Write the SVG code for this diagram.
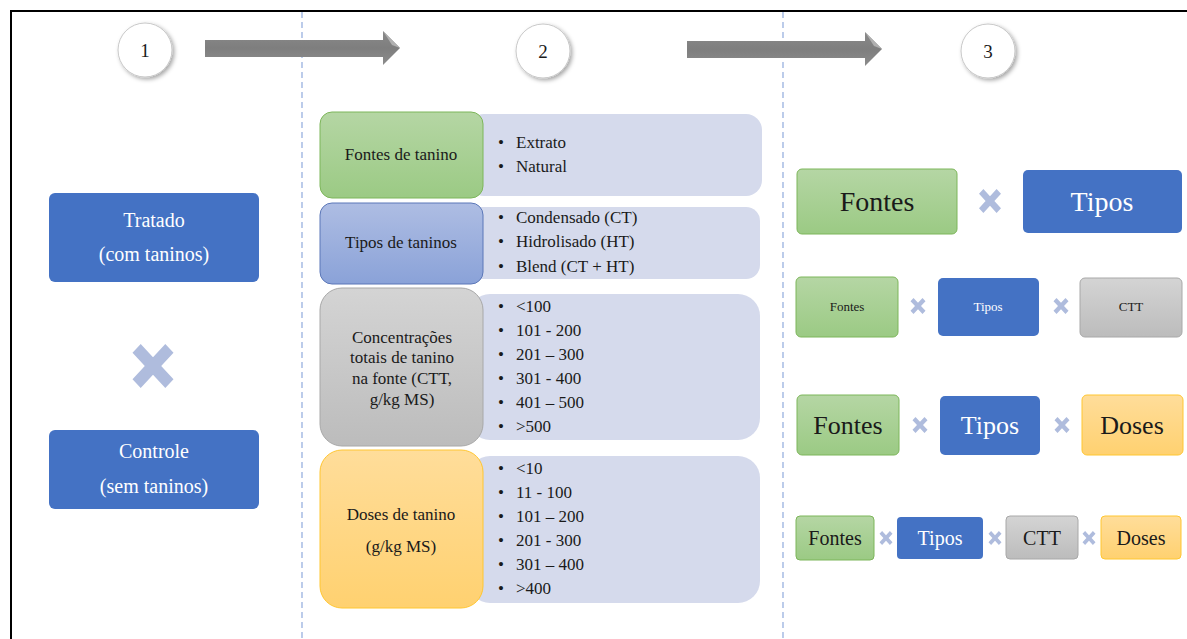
<svg xmlns="http://www.w3.org/2000/svg" width="1187" height="639" viewBox="0 0 1187 639">
<defs>
<linearGradient id="gG" x1="0" y1="0" x2="0" y2="1"><stop offset="0" stop-color="#B5D6A4"/><stop offset="1" stop-color="#9BCA84"/></linearGradient>
<linearGradient id="gB" x1="0" y1="0" x2="0" y2="1"><stop offset="0" stop-color="#AEBDE3"/><stop offset="1" stop-color="#8AA2D8"/></linearGradient>
<linearGradient id="gY" x1="0" y1="0" x2="0" y2="1"><stop offset="0" stop-color="#FFDD9A"/><stop offset="1" stop-color="#FFD170"/></linearGradient>
<linearGradient id="gK" x1="0" y1="0" x2="0" y2="1"><stop offset="0" stop-color="#D4D4D4"/><stop offset="1" stop-color="#BCBCBC"/></linearGradient>
<linearGradient id="gA" x1="0" y1="0" x2="0" y2="1"><stop offset="0" stop-color="#8A8A8A"/><stop offset="0.5" stop-color="#7E7E7E"/><stop offset="1" stop-color="#8C8C8C"/></linearGradient>
<filter id="sh" x="-30%" y="-30%" width="170%" height="170%"><feDropShadow dx="2" dy="2" stdDeviation="2" flood-color="#000" flood-opacity="0.35"/></filter>
<path id="xm" d="M-0.3,-0.5 L0,-0.2 L0.3,-0.5 L0.5,-0.3 L0.2,0 L0.5,0.3 L0.3,0.5 L0,0.2 L-0.3,0.5 L-0.5,0.3 L-0.2,0 L-0.5,-0.3 Z"/>
</defs>
<style>
text{font-family:'Liberation Serif','Times New Roman',Times,Tinos,'Noto Serif','DejaVu Serif',FreeSerif,serif;fill:#1a1a1a}
.w{fill:#fff}
.c{text-anchor:middle}
.t17{font-size:17px}
.blue{fill:#4472C4}
.grn{fill:url(#gG);stroke:#7DB65A;stroke-width:1}
.ylw{fill:url(#gY);stroke:#FFC631;stroke-width:1}
.gry{fill:url(#gK);stroke:#A8A8A8;stroke-width:1}
.lbl{fill:url(#gB);stroke:#5B77B8;stroke-width:1}
.lav{fill:#D5DAEC}
.x{fill:#AFBCDD}
.dash{stroke:#8FAADC;stroke-width:1.2;stroke-dasharray:6,4;fill:none}
.circ{fill:#fff;stroke:#C8C8C8;stroke-width:1;filter:url(#sh)}
</style>
<rect width="1187" height="639" fill="#fff"/>
<g id="frame">
<path d="M11,639 L11,11 L1187,11" fill="none" stroke="#000" stroke-width="2"/>
<line class="dash" x1="302" y1="12" x2="302" y2="639"/>
<line class="dash" x1="783" y1="12" x2="783" y2="639"/>
</g>
<g id="connectors">
<path d="M205,40 L383,40 L383,31 L400,48 L383,65 L383,57 L205,57 Z" fill="url(#gA)"/>
<path d="M383,31 L400,48 L392,45 Z" fill="#B0B0B0"/>
<path d="M687,41 L865,41 L865,32 L882,49 L865,66 L865,58 L687,58 Z" fill="url(#gA)"/>
<path d="M865,32 L882,49 L874,46 Z" fill="#B0B0B0"/>
</g>
<g id="step1"><circle class="circ" cx="145" cy="50" r="27"/><text class="c" x="145" y="57" font-size="19">1</text></g>
<g id="step2"><circle class="circ" cx="543" cy="51" r="27"/><text class="c" x="543" y="58" font-size="19">2</text></g>
<g id="step3"><circle class="circ" cx="988" cy="51" r="27"/><text class="c" x="988" y="58" font-size="19">3</text></g>
<g id="tratado"><rect class="blue" x="49" y="193" width="210" height="89" rx="6"/><text class="c w" x="154" y="227" font-size="20">Tratado</text><text class="c w" x="154" y="261" font-size="20">(com taninos)</text></g>
<g id="x-left"><use href="#xm" class="x" transform="translate(153,366) scale(41,44)"/></g>
<g id="controle"><rect class="blue" x="49" y="430" width="210" height="79" rx="6"/><text class="c w" x="154" y="458" font-size="20">Controle</text><text class="c w" x="154" y="493" font-size="20">(sem taninos)</text></g>
<g id="fontes-tanino">
<rect class="lav" x="468" y="114" width="294" height="82" rx="16"/>
<rect class="grn" x="320" y="112" width="163" height="86" rx="12"/>
<text class="c t17" x="401" y="160">Fontes de tanino</text>
<text class="t17" x="498" y="148">•</text><text class="t17" x="516" y="148">Extrato</text>
<text class="t17" x="498" y="172">•</text><text class="t17" x="516" y="172">Natural</text>
</g>
<g id="tipos-taninos">
<rect class="lav" x="468" y="207" width="292" height="72" rx="14"/>
<rect class="lbl" x="320" y="203" width="163" height="81" rx="12"/>
<text class="c t17" x="401" y="248">Tipos de taninos</text>
<text class="t17" x="498" y="223">•</text><text class="t17" x="516" y="223">Condensado  (CT)</text>
<text class="t17" x="498" y="247">•</text><text class="t17" x="516" y="247">Hidrolisado (HT)</text>
<text class="t17" x="498" y="272">•</text><text class="t17" x="516" y="272">Blend (CT + HT)</text>
</g>
<g id="ctt">
<rect class="lav" x="468" y="294" width="292" height="146" rx="22"/>
<rect class="gry" x="320" y="288" width="163" height="158" rx="22"/>
<text class="c t17" x="402" y="343">Concentrações</text>
<text class="c t17" x="402" y="363">totais de tanino</text>
<text class="c t17" x="402" y="384">na fonte (CTT,</text>
<text class="c t17" x="402" y="405">g/kg MS)</text>
<text class="t17" x="498" y="312">•</text><text class="t17" x="516" y="312">&lt;100</text>
<text class="t17" x="498" y="336">•</text><text class="t17" x="516" y="336">101 - 200</text>
<text class="t17" x="498" y="360">•</text><text class="t17" x="516" y="360">201 – 300</text>
<text class="t17" x="498" y="384">•</text><text class="t17" x="516" y="384">301 - 400</text>
<text class="t17" x="498" y="408">•</text><text class="t17" x="516" y="408">401 – 500</text>
<text class="t17" x="498" y="432">•</text><text class="t17" x="516" y="432">&gt;500</text>
</g>
<g id="doses-tanino">
<rect class="lav" x="468" y="456" width="292" height="147" rx="22"/>
<rect class="ylw" x="320" y="450" width="163" height="158" rx="22"/>
<text class="c t17" x="401" y="520">Doses de tanino</text>
<text class="c t17" x="401" y="552">(g/kg MS)</text>
<text class="t17" x="498" y="474">•</text><text class="t17" x="516" y="474">&lt;10</text>
<text class="t17" x="498" y="498">•</text><text class="t17" x="516" y="498">11 - 100</text>
<text class="t17" x="498" y="522">•</text><text class="t17" x="516" y="522">101 – 200</text>
<text class="t17" x="498" y="546">•</text><text class="t17" x="516" y="546">201 - 300</text>
<text class="t17" x="498" y="570">•</text><text class="t17" x="516" y="570">301 – 400</text>
<text class="t17" x="498" y="594">•</text><text class="t17" x="516" y="594">&gt;400</text>
</g>
<g id="row1">
<rect class="grn" x="797" y="169" width="160" height="65" rx="5"/><text class="c" x="877" y="211" font-size="28">Fontes</text>
<use href="#xm" class="x" transform="translate(990,201) scale(22,24)"/>
<rect class="blue" x="1023" y="170" width="159" height="63" rx="5"/><text class="c w" x="1102" y="211" font-size="28">Tipos</text>
</g>
<g id="row2">
<rect class="grn" x="796" y="277" width="102" height="60" rx="5"/><text class="c" x="847" y="311" font-size="13">Fontes</text>
<use href="#xm" class="x" transform="translate(918,306) scale(15,16)"/>
<rect class="blue" x="938" y="278" width="101" height="58" rx="5"/><text class="c w" x="988" y="311" font-size="13">Tipos</text>
<use href="#xm" class="x" transform="translate(1061,306) scale(15,16)"/>
<rect class="gry" x="1080" y="278" width="102" height="59" rx="5"/><text class="c" x="1131" y="311" font-size="13">CTT</text>
</g>
<g id="row3">
<rect class="grn" x="797" y="395" width="102" height="60" rx="5"/><text class="c" x="848" y="434" font-size="26">Fontes</text>
<use href="#xm" class="x" transform="translate(920,425) scale(15,16)"/>
<rect class="blue" x="940" y="396" width="100" height="59" rx="5"/><text class="c w" x="990" y="434" font-size="26">Tipos</text>
<use href="#xm" class="x" transform="translate(1062,425) scale(15,16)"/>
<rect class="ylw" x="1082" y="395" width="101" height="60" rx="5"/><text class="c" x="1132" y="434" font-size="26">Doses</text>
</g>
<g id="row4">
<rect class="grn" x="796" y="516" width="78" height="44" rx="4"/><text class="c" x="835" y="545" font-size="20">Fontes</text>
<use href="#xm" class="x" transform="translate(886,538) scale(13,14)"/>
<rect class="blue" x="897" y="517" width="86" height="42" rx="4"/><text class="c w" x="940" y="545" font-size="20">Tipos</text>
<use href="#xm" class="x" transform="translate(995,538) scale(13,14)"/>
<rect class="gry" x="1006" y="516" width="72" height="43" rx="4"/><text class="c" x="1042" y="545" font-size="20">CTT</text>
<use href="#xm" class="x" transform="translate(1089,538) scale(13,14)"/>
<rect class="ylw" x="1101" y="516" width="80" height="43" rx="4"/><text class="c" x="1141" y="545" font-size="20">Doses</text>
</g>
</svg>
